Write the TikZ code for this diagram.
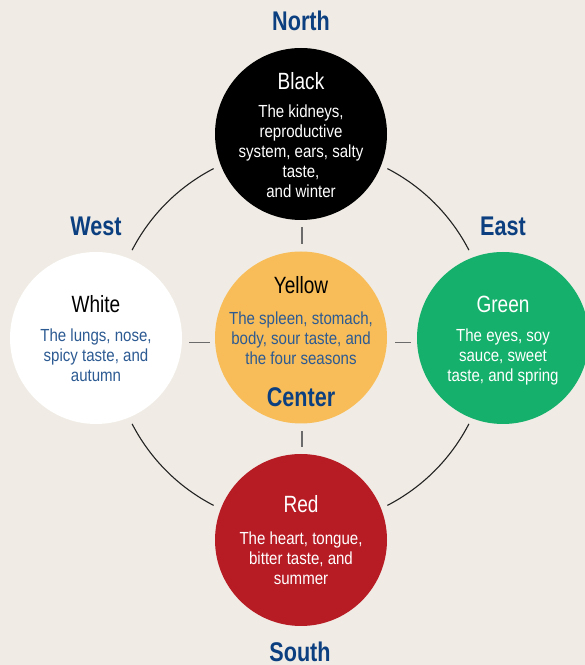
\documentclass[tikz,border=0pt]{standalone}
\usepackage{fontspec}
\setmainfont{Liberation Sans}[FakeStretch=0.86]
\newfontfamily\titlefont{Liberation Sans}[FakeStretch=0.81]
\newfontfamily\compassfont{Liberation Sans}[FakeStretch=0.8]

\definecolor{paper}{HTML}{F0ECE5}
\definecolor{compassblue}{HTML}{0B3F7F}
\definecolor{bodyblue}{HTML}{2C5A92}
\definecolor{discyellow}{HTML}{F8BD59}
\definecolor{discgreen}{HTML}{15B06B}
\definecolor{discred}{HTML}{B71C25}
\definecolor{ringline}{HTML}{222222}
\definecolor{tickgray}{HTML}{6B6B6B}

\begin{document}
\begin{tikzpicture}[x=1pt,y=1pt,
  disc/.style={circle, minimum size=172, inner sep=0, outer sep=0},
  compass/.style={font=\compassfont\bfseries\fontsize{27}{27}\selectfont,
    text=compassblue, anchor=base, inner sep=0},
  title/.style={font=\titlefont\fontsize{23.5}{23.5}\selectfont,
    anchor=base, inner sep=0},
  % multi-line text: the base anchor sits on the last line
  body/.style={font=\fontsize{17.5}{19.8}\selectfont,
    anchor=base, inner sep=0, align=center},
  ring/.style={line width=1.1, draw=ringline},
  tickmark/.style={line width=1.4, draw=tickgray}]

% page
\fill[paper] (0,0) rectangle (585,665);
\useasboundingbox (0,0) rectangle (585,665);

% outer ring joining the four seasonal discs
\coordinate (O) at (300.5,328);
\foreach \a in {0,90,180,270}
  \draw[ring] (O) ++({\a+27.3}:189.5)
    arc[start angle=\a+27.3, end angle=\a+62.7, radius=189.5];

% discs
\node[disc, fill=black]       (N) at (301,531) {};
\node[disc, fill=white]       (W) at (96,327)  {};
\node[disc, fill=discyellow]  (C) at (301,327.5) {};
\node[disc, fill=discgreen]   (E) at (503,327) {};
\node[disc, fill=discred]     (S) at (301,125) {};

% short ticks between the centre disc and its neighbours
\coordinate (tn1) at (302,438); \coordinate (tn2) at (302,421);
\coordinate (ts1) at (302,234); \coordinate (ts2) at (302,218);
\coordinate (tw1) at (189,322.3); \coordinate (tw2) at (210,322.3);
\coordinate (te1) at (395,322.3); \coordinate (te2) at (411,322.3);
\draw[tickmark] (tn1) -- (tn2);
\draw[tickmark] (ts1) -- (ts2);
\draw[tickmark] (tw1) -- (tw2);
\draw[tickmark] (te1) -- (te2);

% compass directions
\node[compass] (lblN) at (301,634) {North};
\node[compass] (lblW) at (96,429)  {West};
\node[compass] (lblE) at (503,429) {East};
\node[compass] (lblS) at (300,3)   {South};
\node[compass] (lblC) at (301,258) {Center};

% disc titles
\node[title, text=white] (tN) at (301,575) {Black};
\node[title, text=black] (tW) at (96,352)  {White};
\node[title, text=black] (tC) at (301,371) {Yellow};
\node[title, text=white] (tE) at (503,352) {Green};
\node[title, text=white] (tS) at (301,152) {Red};

% disc descriptions
\node[body, text=white] (bN) at (301,467.8)
  {The kidneys,\\reproductive\\system, ears, salty\\taste,\\and winter};
\node[body, text=bodyblue] (bW) at (96,283.4)
  {The lungs, nose,\\spicy taste, and\\autumn};
\node[body, text=bodyblue] (bC) at (301,300.4)
  {The spleen, stomach,\\body, sour taste, and\\the four seasons};
\node[body, text=white] (bE) at (503,283.4)
  {The eyes, soy\\sauce, sweet\\taste, and spring};
\node[body, text=white] (bS) at (301,80.4)
  {The heart, tongue,\\bitter taste, and\\summer};
\end{tikzpicture}
\end{document}
